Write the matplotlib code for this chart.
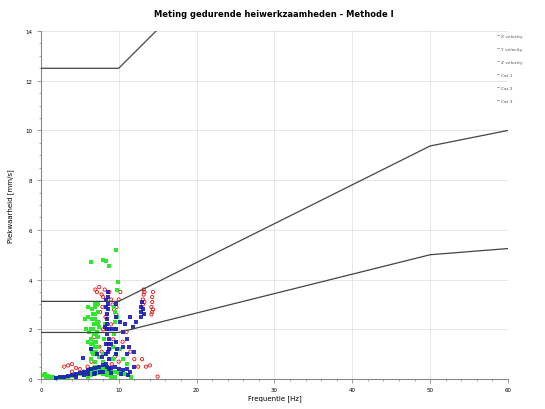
import matplotlib
matplotlib.use("Agg")
import matplotlib.pyplot as plt
from matplotlib.ticker import MultipleLocator
from matplotlib.lines import Line2D

# limit lines (frequency in Hz, velocity in mm/s)
cat_freq = [0, 10, 50, 60]
cat1 = [12.5, 12.5, 25.0, 25.625]
cat2 = [3.125, 3.125, 9.375, 10.0]
cat3 = [1.875, 1.875, 5.0, 5.25]

# X velocity (red)
x_freq = [3.0, 3.5, 4.0, 4.5, 4.0, 5.0, 5.5, 6.0, 6.5, 7.0, 7.5, 7.8, 8.0, 7.0, 7.2,
          7.5, 7.8, 8.0, 8.2, 8.8, 9.0, 9.2, 9.4, 7.3, 7.6, 7.9, 8.3, 9.0, 9.3, 8.8,
          9.5, 10.0, 10.5, 11.0, 11.5, 12.0, 12.5, 13.0, 13.5, 14.0, 15.0, 10.2, 10.0,
          9.7, 9.7, 13.1, 13.1, 13.2, 13.2, 13.3, 13.3, 14.2, 14.2, 14.3, 14.3, 14.4,
          14.4, 14.3, 6.8, 7.4, 8.6, 9.1, 5.2, 6.2]
x_vel = [0.5, 0.55, 0.6, 0.45, 0.3, 0.4, 0.3, 0.5, 0.7, 1.0, 1.3, 1.1, 2.0, 3.6, 3.5,
         3.7, 3.4, 3.3, 3.6, 3.5, 3.2, 3.0, 2.8, 3.0, 2.7, 2.9, 2.5, 2.2, 1.6, 1.2,
         0.9, 0.7, 1.5, 1.9, 1.1, 0.8, 0.5, 0.8, 0.5, 0.55, 0.1, 3.5, 3.2,
         2.9, 2.6, 3.0, 3.2, 3.4, 3.6, 3.1, 3.5, 2.6, 2.9, 3.1, 3.3, 3.5,
         2.8, 2.7, 1.7, 2.3, 1.4, 0.6, 0.2, 0.25]

# Y velocity (blue)
y_freq = [8.4, 8.4, 8.4, 8.5, 8.5, 8.5, 8.6, 8.6, 8.6, 8.7, 8.7, 8.7, 8.7, 8.5, 8.6,
          8.4, 9.6, 9.6, 9.7, 9.7, 9.8, 9.6, 2.0, 2.5, 3.0, 3.5, 4.0, 4.5, 5.0, 5.5,
          6.0, 6.5, 7.0, 7.5, 8.0, 8.5, 9.0, 9.5, 10.0, 10.5, 11.0, 11.5, 12.0, 5.4,
          6.5, 7.2, 7.8, 9.0, 9.2, 10.2, 10.5, 10.8, 11.0, 11.3, 11.5, 11.8, 12.2, 10.6,
          11.0, 12.0, 12.8, 12.9, 13.0, 13.1, 13.2, 12.9, 6.0, 7.0, 8.0, 9.0, 4.5,
          5.5, 6.8, 7.6, 10.3, 11.2, 8.3, 8.8, 8.5, 8.6, 8.4, 8.7]
y_vel = [0.6, 1.0, 1.4, 1.8, 2.2, 2.6, 3.0, 3.3, 3.5, 0.8, 1.2, 1.6, 2.0, 2.4, 2.8,
         3.2, 1.0, 1.5, 2.0, 2.5, 1.2, 3.0, 0.05, 0.08, 0.1, 0.12, 0.15, 0.2, 0.25, 0.3,
         0.35, 0.4, 0.45, 0.5, 0.55, 0.5, 0.45, 0.5, 0.4, 0.35, 0.4, 0.3, 0.5, 0.85,
         1.2, 1.0, 0.9, 1.4, 2.0, 2.3, 1.9, 2.2, 1.6, 1.3, 2.5, 2.1, 2.3, 1.3,
         1.0, 1.1, 2.7, 2.9, 3.1, 2.8, 2.6, 2.5, 0.2, 0.25, 0.3, 0.25, 0.1,
         0.15, 0.2, 0.3, 0.2, 0.15, 2.1, 0.4, 2.0, 1.1, 2.9, 1.4]

# Z velocity (green)
z_freq = [0.4, 0.6, 0.9, 1.2, 1.5, 2.0, 2.5, 3.0, 3.5, 4.0, 4.5, 5.0, 5.3, 5.6, 6.0,
          6.2, 6.5, 6.8, 7.0, 7.2, 7.5, 7.8, 8.0, 8.2, 8.5, 8.8, 9.0, 9.3, 9.6, 10.0,
          10.4, 10.8, 11.2, 11.6, 6.0, 6.5, 7.0, 7.5, 8.0, 8.5, 9.0, 9.5, 6.5, 7.0,
          7.5, 8.0, 8.5, 6.4, 6.4, 6.5, 6.5, 6.6, 6.6, 6.7, 6.7, 6.8, 6.8, 6.9, 7.0,
          7.0, 7.1, 7.1, 7.2, 7.2, 7.3, 7.4, 7.4, 7.5, 7.5, 6.2, 6.0, 5.8, 6.1, 9.3,
          9.3, 9.4, 9.5, 9.5, 9.6, 9.7, 9.7, 9.8, 9.4, 8.0, 8.1, 8.2, 8.0, 6.5, 9.6,
          8.0, 8.4, 8.8, 9.9, 9.8, 6.0, 5.7, 10.2, 10.5, 11.0, 6.9, 7.3, 0.5, 1.0,
          6.6, 6.8, 7.0, 7.2, 6.7, 6.9, 7.1, 7.3, 6.5, 6.7]
z_vel = [0.15, 0.1, 0.12, 0.08, 0.1, 0.06, 0.05, 0.08, 0.1, 0.12, 0.15, 0.2, 0.25, 0.3, 0.3,
         0.35, 0.4, 0.45, 0.5, 0.45, 0.5, 0.45, 0.5, 0.4, 0.45, 0.4, 0.35, 0.3, 0.3, 0.25,
         0.2, 0.2, 0.15, 0.1, 0.1, 0.15, 0.2, 0.25, 0.2, 0.15, 0.1, 0.1, 0.25, 0.3,
         0.35, 0.3, 0.25, 0.8, 1.2, 1.6, 2.0, 2.4, 2.8, 1.0, 1.4, 1.8, 2.2, 2.6, 3.0,
         0.7, 1.1, 1.5, 1.9, 2.3, 2.7, 1.3, 1.7, 2.1, 0.9, 1.9, 1.5, 2.0, 2.5, 0.8,
         1.3, 1.8, 2.3, 2.7, 1.0, 1.5, 2.0, 2.5, 2.9, 1.0, 1.6, 2.2, 0.7, 4.7, 5.2,
         4.8, 4.75, 4.55, 3.9, 3.6, 2.9, 2.4, 1.2, 0.8, 0.6, 2.9, 3.0, 0.2, 0.1,
         1.1, 1.5, 1.3, 1.7, 2.0, 2.4, 1.8, 2.2, 1.4, 2.6]

fig = plt.figure(figsize=(5.45, 4.10), dpi=100)
ax = fig.add_axes([0.075, 0.073, 0.857, 0.849])

ax.scatter(x_freq, x_vel, s=5.5, marker="o", facecolors="none", edgecolors="#e01010",
           linewidths=0.6, zorder=3)
ax.scatter(z_freq, z_vel, s=7, marker="s", color="#2ee82e", linewidths=0, zorder=3)
ax.scatter(y_freq, y_vel, s=6, marker="s", color="#1a1ab8", linewidths=0, alpha=0.9, zorder=4)

for cat in [cat1, cat2, cat3]:
    ax.plot(cat_freq, cat, color="#444444", linewidth=0.9, zorder=5)

ax.set_xlim(0, 60)
ax.set_ylim(0, 14)
ax.xaxis.set_major_locator(MultipleLocator(10))
ax.xaxis.set_minor_locator(MultipleLocator(2))
ax.yaxis.set_major_locator(MultipleLocator(2))
ax.yaxis.set_minor_locator(MultipleLocator(0.5))
ax.grid(True, which="major", color="#e2e2e2", linewidth=0.6)
ax.set_axisbelow(True)
for side in ["top", "right"]:
    ax.spines[side].set_visible(False)
for side in ["left", "bottom"]:
    ax.spines[side].set_color("#888888")
    ax.spines[side].set_linewidth(0.8)
ax.tick_params(which="major", labelsize=4, length=3, width=0.6, color="#888888", pad=3)
ax.tick_params(which="minor", length=1.5, width=0.5, color="#888888")

ax.set_xlabel("Frequentie [Hz]", fontsize=5, labelpad=1)
ax.set_ylabel("Piekwaarheid [mm/s]", fontsize=5, labelpad=8)
fig.suptitle("Meting gedurende heiwerkzaamheden - Methode I", fontsize=6,
             fontweight="bold", x=0.503, y=0.975)

handles = [Line2D([], [], color="#999999", linewidth=0.6) for _ in range(6)]
labels = ["X velocity", "Y velocity", "Z velocity", "Cat 1", "Cat 2", "Cat 3"]
fig.legend(handles, labels, loc="upper left", bbox_to_anchor=(0.905, 0.925),
           frameon=False, fontsize=3.2, handlelength=0.5, handletextpad=0.4,
           labelspacing=2.0, labelcolor="#555555")

fig.savefig("out.png", dpi=100)
